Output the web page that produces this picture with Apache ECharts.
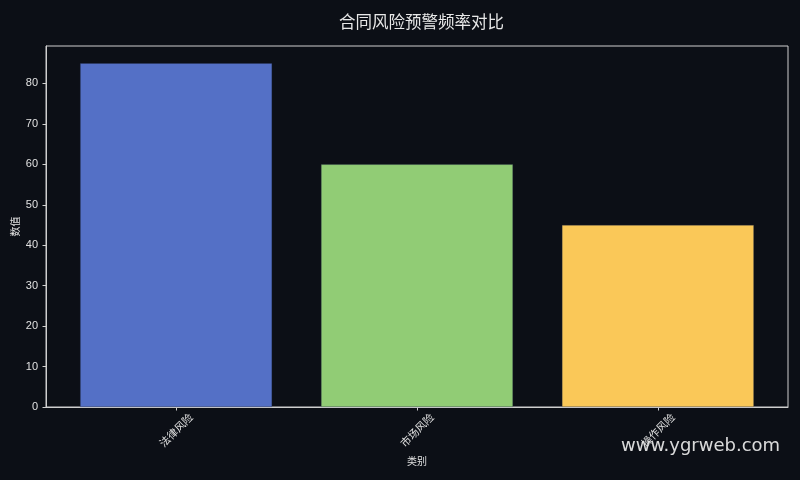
<!DOCTYPE html>
<html>
<head>
<meta charset="utf-8">
<script src="https://cdn.jsdelivr.net/npm/echarts@6/dist/echarts.min.js"></script>
<style>html,body{margin:0;padding:0;background:#0c0f16;}#c{width:800px;height:480px;}</style>
</head>
<body>
<div id="c"></div>
<script>
const categories = ['法律风险', '市场风险', '操作风险'];
const values = [85, 60, 45];
const colors = ['#5470c6', '#91cc75', '#fac858'];
const yTicks = [0, 10, 20, 30, 40, 50, 60, 70, 80];

const cjk = '"Noto Sans CJK SC", sans-serif';
const num = '"Liberation Sans", "Noto Sans CJK SC", sans-serif';
const chart = echarts.init(document.getElementById('c'));
chart.setOption({
  backgroundColor: '#0c0f16',
  animation: false,
  title: {
    text: '合同风险预警频率对比',
    left: 334, top: 8,
    textStyle: { color: '#e8e8e8', fontSize: 16.5, fontWeight: 'normal', fontFamily: cjk }
  },
  grid: { left: 46, right: 12, top: 46, bottom: 73, outerBoundsMode: 'none', containLabel: false,
          show: true, borderColor: '#cfcfcf', borderWidth: 1, backgroundColor: 'transparent' },
  xAxis: {
    type: 'value', min: -0.54, max: 2.54,
    name: '类别', nameLocation: 'middle', nameGap: 49, nameMoveOverlap: false,
    nameTextStyle: { color: '#e0e0e0', fontSize: 10, fontFamily: cjk },
    splitLine: { show: false },
    axisLine: { show: true, onZero: false, lineStyle: { color: '#cfcfcf' } },
    axisTick: { show: true, customValues: [0, 1, 2], length: 3.5, lineStyle: { color: '#cfcfcf' } },
    axisLabel: {
      customValues: [0, 1, 2], rotate: 45, align: 'center', verticalAlign: 'middle',
      color: '#e0e0e0', fontSize: 10.5, margin: 23, fontFamily: cjk,
      formatter: v => categories[Math.round(v)]
    }
  },
  yAxis: {
    type: 'value', min: 0, max: 89.25,
    name: '数值', nameLocation: 'middle', nameGap: 26, nameRotate: 90, nameMoveOverlap: false,
    nameTextStyle: { color: '#e0e0e0', fontSize: 10, fontFamily: cjk },
    splitLine: { show: false },
    axisLine: { show: true, onZero: false, lineStyle: { color: '#cfcfcf' } },
    axisTick: { show: true, customValues: yTicks, length: 3.5, lineStyle: { color: '#cfcfcf' } },
    axisLabel: { customValues: yTicks, color: '#e0e0e0', fontSize: 11, margin: 8, fontFamily: num }
  },
  series: [{
    type: 'bar',
    barWidth: 192,
    data: values.map((v, i) => ({ value: [i, v], itemStyle: { color: colors[i], borderColor: 'rgba(40,50,80,0.6)', borderWidth: 0.5 } }))
  }],
  graphic: [{
    type: 'text', left: 621, top: 437,
    style: { text: 'www.ygrweb.com', fill: 'rgba(235,235,235,0.92)', fontSize: 18, fontFamily: '"DejaVu Sans", sans-serif' }
  }]
});
</script>
</body>
</html>
